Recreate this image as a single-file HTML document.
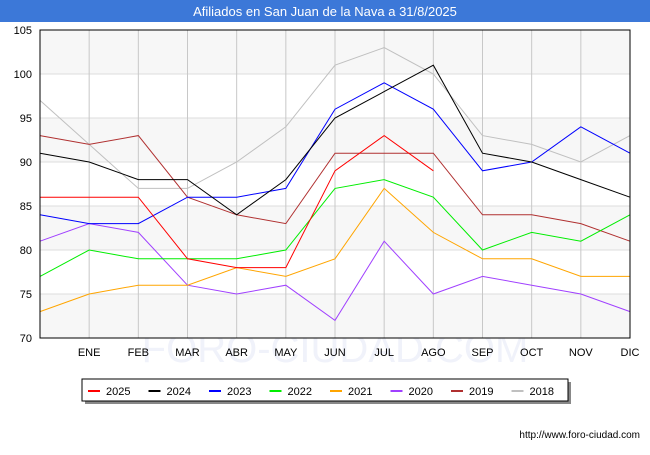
<!DOCTYPE html>
<html><head><meta charset="utf-8"><style>
body{margin:0;width:650px;height:450px;background:#fff;font-family:"Liberation Sans",sans-serif;overflow:hidden}
</style></head><body>
<svg width="650" height="450" font-family="Liberation Sans, sans-serif">
<rect x="0" y="0" width="650" height="22" fill="#3c78d8"/>
<text x="325" y="16" text-anchor="middle" fill="#fff" font-size="13">Afiliados en San Juan de la Nava a 31/8/2025</text>
<g id="plot"></g>
<text x="640" y="438" text-anchor="end" font-size="10" fill="#000">http://www.foro-ciudad.com</text>
</svg>
<script>
const months=["","ENE","FEB","MAR","ABR","MAY","JUN","JUL","AGO","SEP","OCT","NOV","DIC"];
const yTicks=[70,75,80,85,90,95,100,105];
const seriesNames=["2025","2024","2023","2022","2021","2020","2019","2018"];
const colors=["#ff0000","#000000","#0000ff","#00ee00","#ffa500","#a040ff","#b03030","#c0c0c0"];
const s2025=[86,86,86,79,78,78,89,93,89];
const s2024=[91,90,88,88,84,88,95,98,101,91,90,88,86];
const s2023=[84,83,83,86,86,87,96,99,96,89,90,94,91];
const s2022=[77,80,79,79,79,80,87,88,86,80,82,81,84];
const s2021=[73,75,76,76,78,77,79,87,82,79,79,77,77];
const s2020=[81,83,82,76,75,76,72,81,75,77,76,75,73];
const s2019=[93,92,93,86,84,83,91,91,91,84,84,83,81];
const s2018=[97,92,87,87,90,94,101,103,100,93,92,90,93];
const allSeries=[s2025,s2024,s2023,s2022,s2021,s2020,s2019,s2018];
const X0=40,X1=630,Y0=30,Y1=338,ymin=70,ymax=105;
const xs=i=>X0+i*(X1-X0)/(months.length-1);
const ys=v=>Y1-(v-ymin)*(Y1-Y0)/(ymax-ymin);
const NS="http://www.w3.org/2000/svg";
const g=document.getElementById("plot");
function mk(t,a,p){const e=document.createElementNS(NS,t);for(const k in a)e.setAttribute(k,a[k]);(p||g).appendChild(e);return e;}
const wm=mk("text",{x:335,y:362,"text-anchor":"middle","font-size":40,fill:"#f0f2fa"});
wm.textContent="FORO-CIUDAD.COM";


for(let i=0;i<yTicks.length-1;i++){
  if((yTicks.length-2-i)%2===0){
    const b=mk("rect",{x:X0,y:ys(yTicks[i+1]),width:X1-X0,height:ys(yTicks[i])-ys(yTicks[i+1]),fill:"#f7f7f7"});
    
    
  }
}
yTicks.forEach(v=>{
  const l=mk("line",{x1:X0,x2:X1,y1:ys(v),y2:ys(v),stroke:"#ddd","stroke-width":1});
  
  
  const t=mk("text",{x:X0-8,y:ys(v)+4,"text-anchor":"end","font-size":11,fill:"#000"});
  t.textContent=v;
  
  
});
months.forEach((m,i)=>{
  const l=mk("line",{x1:xs(i),x2:xs(i),y1:Y0,y2:Y1,stroke:"#c8c8c8","stroke-width":1});
  
  
  if(m){
    const t=mk("text",{x:xs(i),y:Y1+18,"text-anchor":"middle","font-size":11,fill:"#000"});
    t.textContent=m;
    
    
  }
});
for(let k=allSeries.length-1;k>=0;k--){
  const pts=allSeries[k].map((v,i)=>xs(i)+","+ys(v)).join(" ");
  const p=mk("polyline",{points:pts,fill:"none",stroke:colors[k],"stroke-width":1});
  
  
}
const fr=mk("rect",{x:X0,y:Y0,width:X1-X0,height:Y1-Y0,fill:"none",stroke:"#000","stroke-width":1});


const lg=mk("g",{});


mk("rect",{x:85,y:382,width:486,height:22,fill:"#888"},lg);
mk("rect",{x:82,y:379,width:486,height:22,fill:"#fff",stroke:"#000","stroke-width":1},lg);
seriesNames.forEach((n,k)=>{
  const x=88+k*60.5;
  const e=mk("g",{},lg);
  
  
  mk("line",{x1:x,x2:x+12,y1:391,y2:391,stroke:colors[k],"stroke-width":2},e);
  const t=mk("text",{x:x+18,y:395,"font-size":11,fill:"#000"},e);
  t.textContent=n;
});
</script>
</body></html>
